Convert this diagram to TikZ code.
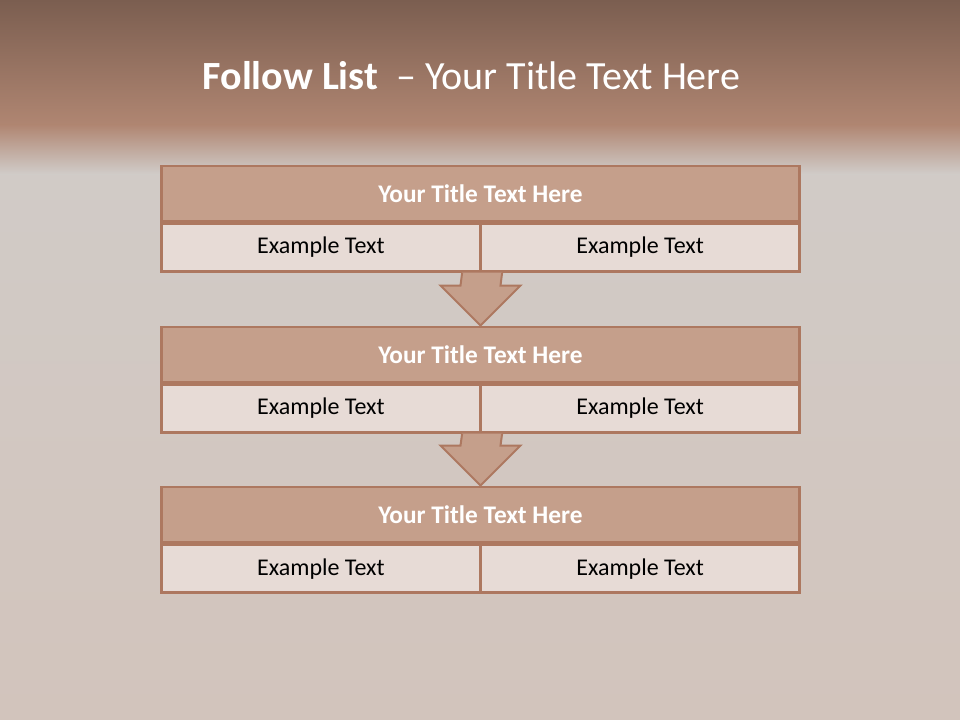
\documentclass[tikz,border=0pt]{standalone}
\usepackage{fontspec}
\setmainfont{Carlito}
\usetikzlibrary{positioning, calc}

\definecolor{bandtop}{HTML}{7B5E50}
\definecolor{bandlow}{HTML}{B08672}
\definecolor{stone}{HTML}{D1CDCA}
\definecolor{stonelow}{HTML}{D2C4BC}
\definecolor{rim}{HTML}{AD7860}
\definecolor{headfill}{HTML}{C59F8B}
\definecolor{cellfill}{HTML}{E7DBD6}

\begin{document}
\begin{tikzpicture}[x=0.75pt, y=-0.75pt,
                titlebar/.style={draw=rim, line width=2.2pt, fill=headfill, text=white,
                    font=\fontsize{19}{21}\selectfont\bfseries,
                    minimum width=479pt, minimum height=41.25pt, inner sep=0pt},
                cell/.style={draw=rim, line width=2.2pt, fill=cellfill, text=black,
                    font=\fontsize{18}{20}\selectfont,
                    minimum width=239.6pt, minimum height=35.5pt, inner sep=0pt},
                blockarrow/.style={draw=rim, line width=1.5pt, fill=headfill, line join=miter}]
                % background
                \useasboundingbox (0,0) rectangle (960,720);
                \shade[top color=stone, bottom color=stonelow] (0,0) rectangle (960,720);
                \shade[top color=bandtop, bottom color=bandlow] (0,0) rectangle (960,126);
                \shade[top color=bandlow, bottom color=stone] (0,125) rectangle (960,175);
                \node[text=white, font=\fontsize{30}{32}\selectfont] (title) at (471.5,76)
                    {\textbf{Follow List}\ \ – Your Title Text Here};
                % boxes
                \node[titlebar] (t1) at (480.5,193.5) {Your Title Text Here};
                \node[cell, anchor=north west] (l1) at (t1.south west) {Example Text};
                \node[cell, anchor=north east] (r1) at (t1.south east) {Example Text};
                \node[titlebar] (t2) at (480.5,354.5) {Your Title Text Here};
                \node[cell, anchor=north west] (l2) at (t2.south west) {Example Text};
                \node[cell, anchor=north east] (r2) at (t2.south east) {Example Text};
                \node[titlebar] (t3) at (480.5,514.5) {Your Title Text Here};
                \node[cell, anchor=north west] (l3) at (t3.south west) {Example Text};
                \node[cell, anchor=north east] (r3) at (t3.south east) {Example Text};
                % arrows
                \draw[blockarrow] ([xshift=-15pt]l1.south east) -- ([xshift=-15pt,yshift=30pt]t2.north)
                    -- ([xshift=-30pt,yshift=30pt]t2.north) -- (t2.north)
                    -- ([xshift=30pt,yshift=30pt]t2.north) -- ([xshift=15pt,yshift=30pt]t2.north)
                    -- ([xshift=15pt]l1.south east);
                \draw[blockarrow] ([xshift=-15pt]l2.south east) -- ([xshift=-15pt,yshift=30pt]t3.north)
                    -- ([xshift=-30pt,yshift=30pt]t3.north) -- (t3.north)
                    -- ([xshift=30pt,yshift=30pt]t3.north) -- ([xshift=15pt,yshift=30pt]t3.north)
                    -- ([xshift=15pt]l2.south east);
            \end{tikzpicture}
\end{document}
